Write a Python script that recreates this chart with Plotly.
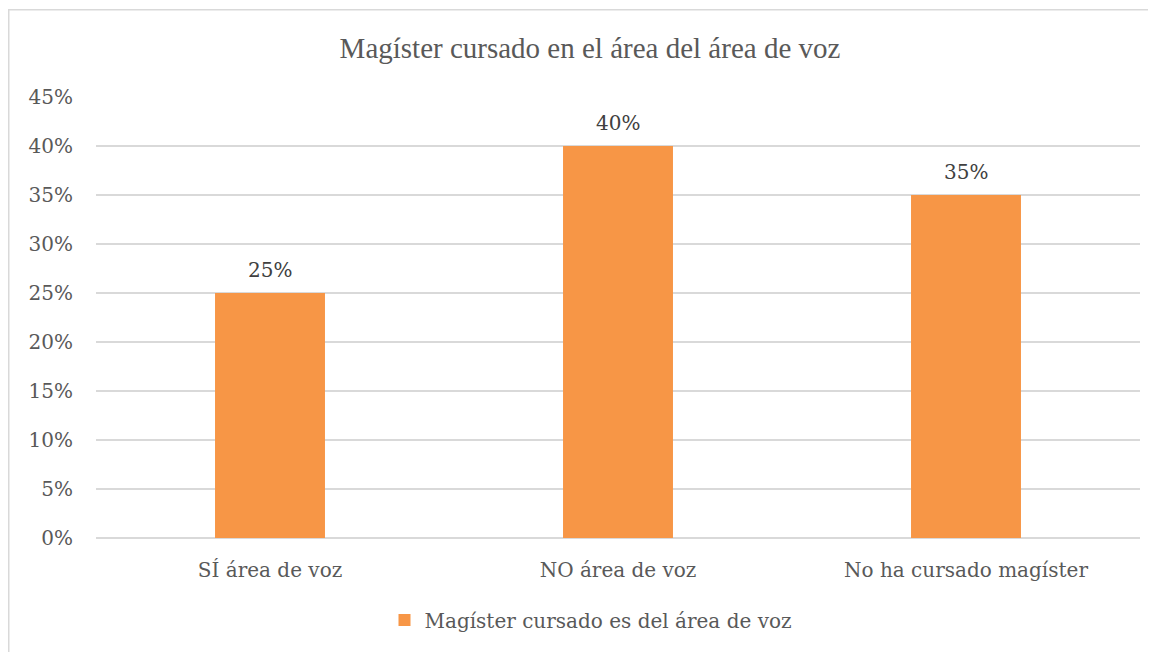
import plotly.graph_objects as go

categories = ["SÍ área de voz", "NO área de voz", "No ha cursado magíster"]
values = [0.25, 0.40, 0.35]
series_name = "Magíster cursado es del área de voz"
title_text = "Magíster cursado en el área del área de voz"
tick_vals = [0, 0.05, 0.10, 0.15, 0.20, 0.25, 0.30, 0.35, 0.40, 0.45]
tick_text = ["0%", "5%", "10%", "15%", "20%", "25%", "30%", "35%", "40%", "45%"]

# page body has an 8px margin, so figure coords = screen coords - 8
W, H = 1148, 644
ML, MR, MT, MB = 88, 16, 89, 114
pw = W - ML - MR
ph = H - MT - MB

label_font = "DejaVu Serif"
text_col = "#595959"

fig = go.Figure()
fig.add_trace(go.Bar(
    x=categories, y=values, name=series_name,
    marker=dict(color="#F79646", line=dict(width=0)),
    showlegend=True,
))

for c, v in zip(categories, values):
    fig.add_annotation(
        x=c, y=v, xref="x", yref="y",
        text=f"{round(v*100)}%", showarrow=False,
        yanchor="bottom", yshift=9,
        font=dict(family=label_font, size=20, color="#404040"),
    )

# outer chart border
fig.add_shape(
    type="rect", xref="paper", yref="paper",
    x0=(0.75 - ML) / pw, x1=(1300 - ML) / pw,
    y0=(MT + ph - 1.75) / ph, y1=(MT + ph - 800) / ph,
    line=dict(color="#d9d9d9", width=1.5), fillcolor="rgba(0,0,0,0)",
    layer="below",
)

fig.update_layout(
    width=W, height=H,
    margin=dict(l=ML, r=MR, t=MT, b=MB),
    paper_bgcolor="white", plot_bgcolor="white",
    bargap=0.684,
    title=dict(
        text=title_text, x=(582 - ML) / pw, xref="paper", xanchor="center",
        y=1 - 40 / H, yanchor="middle",
        font=dict(family="Liberation Serif", size=29, color=text_col),
    ),
    legend=dict(
        orientation="h", x=(583 - ML) / pw, xanchor="center",
        y=-(612 - (MT + ph)) / ph, yanchor="middle",
        font=dict(family=label_font, size=20, color=text_col),
        itemwidth=30,
    ),
    xaxis=dict(
        showgrid=False, showline=False, ticks="",
        tickfont=dict(family=label_font, size=20, color=text_col),
        ticklabelstandoff=18,
    ),
    yaxis=dict(
        range=[0, 0.45], tickvals=tick_vals, ticktext=tick_text,
        showgrid=True, gridcolor="#d9d9d9", gridwidth=1.5,
        zeroline=True, zerolinecolor="#d9d9d9", zerolinewidth=1.5,
        showline=False, ticks="",
        tickfont=dict(family=label_font, size=20, color=text_col),
        ticklabelstandoff=22,
    ),
)

fig.write_html("out.html")
